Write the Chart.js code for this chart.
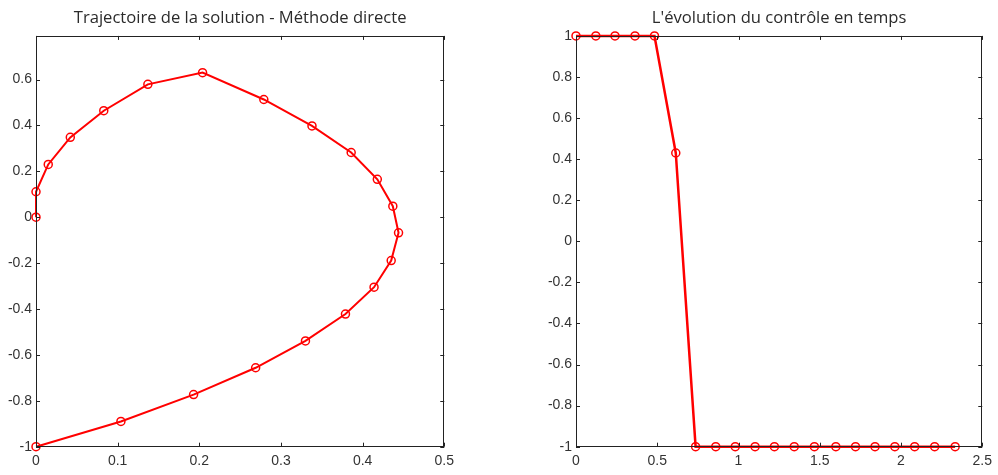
<!DOCTYPE html>
<html>
<head>
<meta charset="utf-8">
<script src="https://cdn.jsdelivr.net/npm/chart.js@4.4.1/dist/chart.umd.min.js"></script>
<style>
  html, body { margin: 0; padding: 0; background: #fff; }
  #wrap { position: relative; width: 998px; height: 475px; }
  canvas { position: absolute; top: 0; }
  #left { left: 0; }
  #right { left: 540px; }
</style>
</head>
<body>
<div id="wrap">
  <canvas id="left" width="460" height="475"></canvas>
  <canvas id="right" width="458" height="475"></canvas>
</div>
<script>
// --- Données : trajectoire (gauche) ---
const trajX = [0, 0.104, 0.193, 0.269, 0.330, 0.379, 0.414, 0.435, 0.444, 0.437, 0.418,
               0.386, 0.338, 0.279, 0.204, 0.137, 0.083, 0.042, 0.015, 0, 0];
const trajY = [-1, -0.890, -0.773, -0.656, -0.539, -0.422, -0.305, -0.189, -0.068, 0.048, 0.165,
               0.282, 0.398, 0.513, 0.630, 0.579, 0.464, 0.348, 0.230, 0.111, 0];
const leftXTicks = [0, 0.1, 0.2, 0.3, 0.4, 0.5];
const leftYTicks = [-1, -0.8, -0.6, -0.4, -0.2, 0, 0.2, 0.4, 0.6];

// --- Données : contrôle (droite) ---
const timeT = [0, 0.122, 0.240, 0.363, 0.483, 0.614, 0.736, 0.860, 0.980, 1.102,
               1.221, 1.343, 1.467, 1.599, 1.720, 1.840, 1.962, 2.084, 2.207, 2.333];
const controlU = [1, 1, 1, 1, 1, 0.43, -1, -1, -1, -1,
                  -1, -1, -1, -1, -1, -1, -1, -1, -1, -1];
const rightXTicks = [0, 0.5, 1, 1.5, 2, 2.5];
const rightYTicks = [-1, -0.8, -0.6, -0.4, -0.2, 0, 0.2, 0.4, 0.6, 0.8, 1];

const RED = '#ff0000';
const TXT = '#333';

// cadre + graduations intérieures (style MATLAB)
const boxPlugin = {
  id: 'box',
  afterDatasetsDraw(chart) {
    const { ctx, chartArea: a, scales: { x, y } } = chart;
    const L = 4;
    ctx.save();
    ctx.strokeStyle = '#222';
    ctx.lineWidth = 1;
    ctx.beginPath();
    x.ticks.forEach(t => {
      const px = Math.round(x.getPixelForValue(t.value)) + 0.5;
      ctx.moveTo(px, a.bottom); ctx.lineTo(px, a.bottom - L);
      ctx.moveTo(px, a.top); ctx.lineTo(px, a.top + L);
    });
    y.ticks.forEach(t => {
      const py = Math.round(y.getPixelForValue(t.value)) + 0.5;
      ctx.moveTo(a.left, py); ctx.lineTo(a.left + L, py);
      ctx.moveTo(a.right, py); ctx.lineTo(a.right - L, py);
    });
    ctx.stroke();
    ctx.strokeRect(Math.round(a.left) + 0.5, Math.round(a.top) + 0.5,
                   Math.round(a.width) - 1, Math.round(a.height) - 1);
    ctx.restore();
  }
};

const fmt = v => String(+Number(v).toFixed(2));

function makeChart(id, title, xs, ys, xMin, xMax, yMin, yMax, xTicks, yTicks, padRight, lineW) {
  return new Chart(document.getElementById(id), {
    type: 'scatter',
    data: {
      datasets: [{
        data: xs.map((v, i) => ({ x: v, y: ys[i] })),
        showLine: true,
        borderColor: RED,
        borderWidth: lineW,
        pointRadius: 4,
        pointBorderWidth: 1.5,
        pointBorderColor: RED,
        pointBackgroundColor: 'rgba(0,0,0,0)',
        clip: false
      }]
    },
    options: {
      responsive: false,
      animation: false,
      layout: { padding: { left: 0, right: padRight, top: 0, bottom: 0 } },
      plugins: {
        legend: { display: false },
        tooltip: { enabled: false },
        title: {
          display: true,
          text: title,
          fullSize: false,
          color: '#2b2b2b',
          font: { family: 'Open Sans', size: 16.6, weight: 'normal' },
          padding: { top: 8, bottom: 8 }
        }
      },
      scales: {
        x: {
          type: 'linear',
          min: xMin, max: xMax,
          afterBuildTicks: s => { s.ticks = xTicks.map(v => ({ value: v })); },
          afterFit: s => { s.height = 28.3; },
          grid: { display: false, drawTicks: false },
          border: { display: false },
          ticks: {
            color: TXT, padding: 6, maxRotation: 0, autoSkip: false,
            font: { family: 'Liberation Sans', size: 14 },
            callback: fmt
          }
        },
        y: {
          type: 'linear',
          min: yMin, max: yMax,
          afterBuildTicks: s => { s.ticks = yTicks.map(v => ({ value: v })); },
          afterFit: s => { s.width = 36; },
          grid: { display: false, drawTicks: false },
          border: { display: false },
          ticks: {
            color: TXT, padding: 4, autoSkip: false,
            font: { family: 'Liberation Sans', size: 14 },
            callback: fmt
          }
        }
      }
    },
    plugins: [boxPlugin]
  });
}

makeChart('left', 'Trajectoire de la solution - Méthode directe',
  trajX, trajY, 0, 0.5, -1, 0.79, leftXTicks, leftYTicks, 13, 2);
makeChart('right', "L'évolution du contrôle en temps",
  timeT, controlU, 0, 2.5, -1, 1, rightXTicks, rightYTicks, 12, 2.5);
</script>
</body>
</html>
